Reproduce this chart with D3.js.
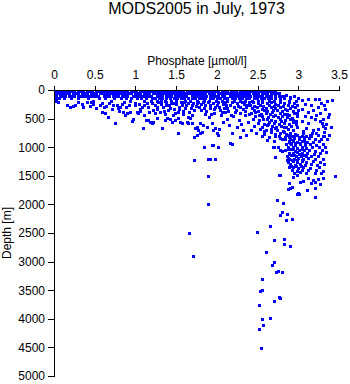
<!DOCTYPE html>
<html>
<head>
<meta charset="utf-8">
<script src="https://cdn.jsdelivr.net/npm/d3@7"></script>
<style>
  html, body { margin: 0; padding: 0; background: #fff; }
  svg { display: block; }
  text { font-family: "Liberation Sans", Arial, Helvetica, sans-serif; fill: #000; }
</style>
</head>
<body>
<svg id="chart" width="350" height="384"></svg>
<script>
// Axis ticks
const phosphateTicks = [0, 0.5, 1, 1.5, 2, 2.5, 3, 3.5];
const depthTicks = [0, 500, 1000, 1500, 2000, 2500, 3000, 3500, 4000, 4500, 5000];

// Near-surface observations: depth [m] of each level and the phosphate values measured there
const surfaceDepths = [10, 55, 100, 145, 185];
const surface10 = [0.00,0.04,0.07,0.11,0.15,0.18,0.22,0.25,0.29,0.33,0.36,0.40,0.43,0.47,0.51,0.54,0.58,0.62,0.65,0.69,0.72,0.76,0.80,0.83,0.87,0.90,0.94,0.98,1.01,1.05,1.08,1.12,1.16,1.19,1.23,1.27,1.30,1.34,1.37,1.41,1.45,1.48,1.52,1.55,1.59,1.63,1.66,1.70,1.73,1.77,1.81,1.84,1.88,1.92,1.95,1.99,2.02,2.06,2.10,2.13,2.17,2.20,2.24,2.28,2.31,2.35,2.38,2.42,2.46,2.49,2.53,2.57,2.60,2.64,2.68,2.71];
const surface55 = [0.01,0.05,0.08,0.12,0.16,0.19,0.23,0.27,0.30,0.34,0.37,0.41,0.45,0.48,0.52,0.56,0.59,0.63,0.66,0.70,0.74,0.77,0.81,0.85,0.88,0.92,0.95,0.99,1.03,1.06,1.10,1.14,1.17,1.21,1.24,1.28,1.32,1.35,1.39,1.43,1.46,1.50,1.53,1.57,1.61,1.64,1.68,1.72,1.75,1.79,1.82,1.86,1.90,1.93,1.97,2.01,2.04,2.08,2.11,2.15,2.19,2.22,2.26,2.30,2.33,2.37,2.40,2.44,2.48,2.51,2.55,2.59,2.62,2.66,2.70,2.74];
const surface100 = [0.00,0.03,0.07,0.10,0.14,0.18,0.21,0.25,0.29,0.32,0.36,0.39,0.43,0.47,0.50,0.54,0.61,0.65,0.68,0.72,0.76,0.79,0.83,0.87,0.90,0.97,1.01,1.04,1.08,1.12,1.15,1.19,1.26,1.30,1.33,1.37,1.41,1.44,1.48,1.52,1.55,1.59,1.62,1.69,1.73,1.77,1.80,1.84,1.87,1.91,1.95,1.98,2.02,2.06,2.09,2.16,2.20,2.23,2.27,2.31,2.34,2.38,2.41,2.45,2.49,2.52,2.56,2.60,2.63,2.67,2.71,2.76,2.81];
const surface145 = [0.00,0.03,0.06,0.12,0.21,0.30,0.42,0.55,0.63,0.74,0.82,0.88,0.95,1.02,1.07,1.13,1.20,1.24,1.29,1.33,1.38,1.42,1.47,1.51,1.56,1.60,1.64,1.69,1.73,1.78,1.82,1.86,1.91,1.95,2.00,2.04,2.09,2.13,2.18,2.22,2.27,2.31,2.36,2.40,2.45,2.49,2.54,2.58,2.63,2.67,2.72,2.77,2.83,2.90];
const surface185 = [0.02,0.48,0.93,1.10,1.19,1.27,1.36,1.44,1.50,1.61,1.67,1.75,1.84,1.90,1.99,2.06,2.12,2.21,2.29,2.34,2.43,2.51,2.56,2.64,2.70,2.78,2.88,2.97];
const surfaceRows = [surface10, surface55, surface100, surface145, surface185];

// Upper water column below 200 m: [phosphate µmol/l, depth m]
const upperLayer = [
  [0.05,215],[0.16,262],[0.20,300],[0.23,285],[0.26,270],[0.30,205],[0.36,300],[0.40,215],[0.44,280],[0.48,240],[0.52,310],
  [0.34,245],[0.46,205],[0.57,255],[0.70,200],[0.86,215],[0.92,260],[1.00,220],[1.04,250],[1.11,270],
  [0.59,385],[0.59,220],[0.62,300],[0.63,402],[0.64,280],[0.66,472],[0.68,230],[0.71,330],[0.73,260],[0.75,577],[0.77,262],
  [0.78,310],[0.80,370],[0.81,297],[0.84,250],[0.85,385],[0.87,437],[0.88,300],[0.90,402],[0.93,380],[0.96,542],[0.97,507],
  [0.99,270],[1.02,385],[1.03,402],[1.05,360],[1.06,332],[1.08,300],[1.09,665],[1.10,440],[1.13,520],[1.15,525],[1.17,380],
  [1.18,560],[1.20,577],[1.22,560],[1.20,225],[1.24,402],[1.24,262],[1.26,490],[1.26,330],[1.28,205],[1.30,380],[1.31,240],
  [1.33,665],[1.34,300],[1.36,525],[1.36,420],[1.38,215],[1.39,490],[1.40,350],[1.41,270],[1.42,507],[1.44,220],[1.45,560],
  [1.46,440],[1.47,340],[1.49,525],[1.50,245],[1.52,490],[1.52,380],[1.52,752],[1.53,300],[1.55,560],[1.56,215],[1.57,577],
  [1.58,420],[1.59,360],[1.62,260],[1.63,560],[1.64,470],[1.65,577],[1.65,225],[1.67,490],[1.68,320],[1.69,577],[1.70,430],
  [1.71,235],[1.72,822],[1.73,665],[1.74,280],[1.76,647],[1.76,787],[1.77,700],[1.77,215],[1.79,577],[1.79,752],[1.80,350],
  [1.82,735],[1.83,612],[1.83,215],[1.85,420],[1.86,262],[1.88,647],[1.89,215],[1.90,470],[1.92,320],[1.94,577],[1.95,700],
  [1.95,235],[1.96,400],[1.98,665],[1.98,290],[2.00,752],[2.01,787],[2.01,215],[2.03,680],[2.04,350],[2.05,440],[2.07,250],
  [2.08,560],[2.10,390],[2.10,215],[2.12,500],[2.13,310],[2.15,620],[2.16,270],[2.18,760],[2.19,215],[2.20,460],[2.22,390],
  [2.25,230],[2.25,650],[2.27,520],[2.28,300],[2.28,820],[2.30,600],[2.31,215],[2.32,700],[2.34,360],[2.35,440],[2.36,780],
  [2.37,262],[2.38,560],[2.40,215],[2.42,700],
  [1.14,230],[1.16,300],[1.22,345],[1.27,290],[1.32,200],[1.35,365],[1.37,255],[1.43,310],[1.46,230],[1.49,395],[1.54,330],
  [1.57,270],[1.60,205],[1.61,310],[1.66,385],[1.69,270],[1.72,350],[1.75,230],[1.78,300],[1.81,250],[1.84,310],[1.87,360],
  [1.91,270],[1.93,420],[1.97,340],[2.00,260],[2.03,300],[2.06,380],[2.09,320],[2.11,270],[2.14,360],[2.17,430],[2.21,300],
  [2.23,350],[2.26,280],[2.29,400],[2.32,330],[2.36,300],[2.39,420],[2.33,250],
  [2.44,215],[2.50,235],[2.55,210],[2.61,228],[2.66,205],[2.72,240],[2.77,215],[2.83,232],[2.89,210],[2.95,225],
  [2.41,262],[2.46,280],[2.53,258],[2.57,275],[2.64,266],[2.70,285],[2.75,260],[2.81,278],[2.87,262],[2.92,280],[2.99,268],
  [2.43,315],[2.49,302],[2.55,325],[2.60,310],[2.67,298],[2.72,320],[2.78,305],[2.84,330],[2.90,312],[2.96,300],
  [2.45,352],[2.51,370],[2.58,348],[2.62,365],[2.68,380],[2.74,355],[2.80,372],[2.86,350],[2.93,368],[3.00,355],
  [2.42,405],[2.54,420],[2.60,398],[2.65,415],[2.71,430],[2.77,402],[2.83,418],[2.88,440],[2.95,410],
  [2.47,462],[2.56,455],[2.63,478],[2.69,460],[2.75,472],[2.80,450],[2.86,468],[2.92,485],[2.98,458],
  [2.44,515],[2.52,530],[2.61,508],[2.66,522],[2.72,540],[2.78,512],[2.84,528],[2.90,505],[2.97,535],
  [2.50,570],[2.58,588],[2.64,565],[2.70,580],[2.76,598],[2.82,572],[2.88,590],[2.94,568],
  [2.46,625],[2.55,640],[2.62,618],[2.68,632],[2.73,650],[2.79,622],[2.85,645],[2.91,628],[2.98,640],
  [2.53,690],[2.60,705],[2.67,682],[2.74,698],[2.81,712],[2.87,688],[2.93,702],
  [2.48,750],[2.58,765],[2.66,742],[2.72,770],[2.78,752],[2.85,775],[2.90,748],[2.96,762],
  [2.56,810],[2.64,825],[2.71,805],[2.77,832],[2.84,815],[2.89,802],[2.95,828],
  [2.62,870],[2.70,885],[2.80,862],[2.88,890],[2.94,872],
  [2.47,390],[2.52,445],[2.57,505],[2.69,350],[2.79,545],[2.86,415],[2.63,595],[2.71,665],[2.83,735],[2.76,805],
  [2.99,395],[2.97,600],[2.58,720],[2.94,520],[2.82,655],
  [2.76,60],[2.80,110],[2.85,80],[2.90,130],[2.95,100],[3.00,140],[2.78,150],
  [3.25,150],[3.41,175],[3.05,180],[3.12,160],[3.20,165],[3.28,220],[3.35,185],[3.08,250],[3.15,270],[3.24,300],[3.31,260],
  [3.05,330],[3.12,380],[3.18,350],[3.27,400],[3.33,330],[3.38,420],[3.08,450],[3.16,480],[3.22,440],[3.30,500],[3.36,470],
  [3.04,540],[3.12,580],[3.21,510],[3.27,545],[3.29,580],[3.30,630],[3.33,665],[3.24,680],[3.34,590],[3.40,640],[3.10,660],
  [3.18,700],[3.32,740],[3.06,720],[3.06,750],[3.14,780],[3.17,750],[3.22,760],[3.30,810],[3.38,780]
];

// Intermediate-depth maximum, 700–1500 m
const deepCluster = [
  [2.86,795],[2.92,810],[2.98,790],[3.04,805],[3.10,798],[3.16,812],[3.24,792],[3.31,806],
  [2.84,848],[2.90,862],[2.95,840],[3.01,855],[3.07,866],[3.13,845],[3.20,858],[3.28,850],[3.35,862],
  [2.88,905],[2.93,892],[2.99,910],[3.05,898],[3.11,915],[3.18,902],[3.26,895],
  [2.85,952],[2.91,940],[2.96,958],[3.02,945],[3.08,962],[3.14,948],[3.22,955],[3.30,942],
  [2.87,1002],[2.93,990],[2.98,1010],[3.04,996],[3.10,1008],[3.17,992],[3.25,1005],[3.33,998],
  [2.84,1052],[2.90,1040],[2.96,1060],[3.01,1046],[3.07,1055],[3.13,1042],[3.21,1058],[3.29,1050],
  [2.88,1098],[2.94,1110],[2.99,1092],[3.05,1105],[3.11,1095],[3.19,1112],[3.27,1100],[3.34,1090],
  [2.86,1152],[2.91,1140],[2.97,1158],[3.03,1146],[3.09,1160],[3.16,1148],[3.24,1155],
  [2.89,1198],[2.95,1210],[3.00,1192],[3.06,1205],[3.12,1196],[3.20,1212],[3.30,1202],
  [2.87,1252],[2.93,1240],[2.98,1258],[3.04,1246],[3.10,1255],[3.18,1244],[3.27,1250],
  [2.90,1298],[2.96,1310],[3.02,1292],[3.08,1305],[3.15,1296],[3.23,1308],[3.32,1300],
  [2.88,1352],[2.94,1340],[3.00,1358],[3.06,1346],[3.14,1355],[3.25,1345],
  [2.92,1398],[2.98,1410],[3.04,1392],[3.12,1405],[3.22,1396],[3.30,1408],
  [2.95,1452],[3.02,1440],[3.10,1458],[3.20,1446],[3.28,1455],
  [2.89,825],[2.95,828],[3.01,822],[3.07,830],[2.90,925],[2.96,928],[3.02,922],[3.08,930],
  [2.87,1025],[2.93,1028],[2.99,1022],[3.05,1030],[2.89,1125],[2.95,1128],[3.01,1122],[3.07,1130],
  [2.86,1225],[2.92,1228],[2.98,1222],[3.04,1230],[2.91,1325],[2.97,1328],[3.03,1322],
  [2.69,996],[2.70,996],[2.75,996],[2.78,1049],[2.80,1066],[2.71,1171],[2.87,1189],
  [1.84,996],[1.94,961],[1.95,961],[2.01,996],[2.16,926],[2.19,944],
  [1.72,1224],[1.89,1206],[1.92,1206],[1.98,1206]
];

// Deep water below 1500 m
const deepTail = [
  [3.45,1503],[3.30,1538],[3.18,1573],[3.21,1608],[3.12,1538],[3.02,1608],[2.98,1486],[2.94,1521],[2.76,1486],[2.78,1486],
  [1.89,1503],[2.89,1626],[2.92,1696],[2.90,1713],[3.00,1800],[3.01,1818],[3.21,1713],[3.21,1870],[2.87,1730],[3.11,1748],
  [2.98,1818],[3.06,1590],[3.15,1620],[3.24,1560],[3.27,1640],
  [1.89,1993],[2.74,1920],[2.81,1975],[2.80,2133],[2.78,2185],[2.86,2168],[2.92,2255],[2.85,2272],[2.65,2377],[2.49,2482],
  [1.66,2500],[1.71,2900],[2.70,2622],[2.82,2605],[2.82,2692],[2.90,2727],[2.60,2832],[2.70,3007],[2.68,3059],[2.73,3181],
  [2.75,3164],[2.80,3181],[2.55,3304],[2.53,3513],[2.55,3496],[2.76,3618],[2.78,3636],[2.70,3688],[2.52,3758],[2.55,4003],
  [2.65,3985],[2.57,4108],[2.52,4178],[2.54,4510]
];

const svg = d3.select("#chart");

const x = d3.scaleLinear().domain([0, 3.5]).range([54, 339]);
const y = d3.scaleLinear().domain([0, 5000]).range([90, 376]);

// Gather every observation as {p, d}
const points = [];
surfaceRows.forEach((row, i) => row.forEach(p => points.push({ p, d: surfaceDepths[i] })));
[upperLayer, deepCluster, deepTail].forEach(list => list.forEach(([p, d]) => points.push({ p, d })));

svg.append("defs").append("clipPath").attr("id", "plotClip")
  .append("rect").attr("x", 54).attr("y", 90).attr("width", 300).attr("height", 290);

svg.append("g")
  .attr("clip-path", "url(#plotClip)")
  .attr("shape-rendering", "crispEdges")
  .selectAll("rect")
  .data(points)
  .join("rect")
  .attr("x", d => Math.round(x(d.p)) - 1)
  .attr("y", d => Math.round(y(d.d)) - 1)
  .attr("width", 3)
  .attr("height", 3)
  .attr("fill", "#0000ff");

// Phosphate axis along the top
const xAxis = svg.append("g")
  .attr("transform", "translate(0,90)")
  .call(d3.axisTop(x).tickValues(phosphateTicks).tickFormat(d => String(d))
    .tickSize(4).tickSizeOuter(0).tickPadding(7));

// Depth axis on the left, increasing downward
const yAxis = svg.append("g")
  .attr("transform", "translate(54,0)")
  .call(d3.axisLeft(y).tickValues(depthTicks).tickFormat(d => String(d))
    .tickSize(6).tickSizeOuter(0).tickPadding(3));

[xAxis, yAxis].forEach(g => {
  g.selectAll("path, line").attr("stroke", "#000").attr("shape-rendering", "crispEdges");
  g.selectAll("text").attr("font-family", "'Liberation Sans', Arial, sans-serif").attr("font-size", 12).attr("fill", "#000");
});

svg.append("text")
  .attr("x", 196.5).attr("y", 14)
  .attr("text-anchor", "middle")
  .attr("font-size", 16)
  .text("MODS2005 in July, 1973");

svg.append("text")
  .attr("x", 197).attr("y", 65)
  .attr("text-anchor", "middle")
  .attr("font-size", 12)
  .text("Phosphate [µmol/l]");

svg.append("text")
  .attr("transform", "translate(11,233) rotate(-90)")
  .attr("text-anchor", "middle")
  .attr("font-size", 12)
  .text("Depth [m]");
</script>
</body>
</html>
